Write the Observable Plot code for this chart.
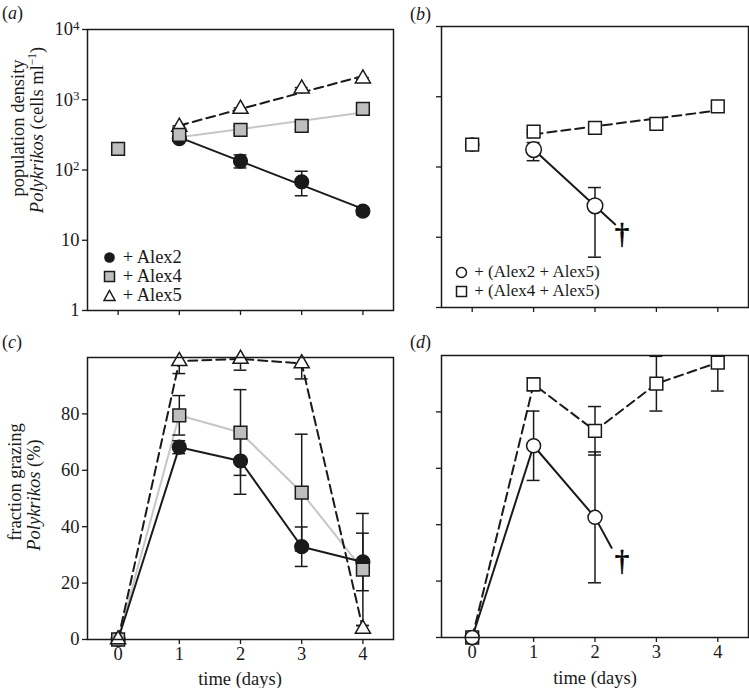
<!DOCTYPE html>
<html>
<head>
<meta charset="utf-8">
<script src="https://cdn.jsdelivr.net/npm/d3@7"></script>
<script src="https://cdn.jsdelivr.net/npm/@observablehq/plot@0.6"></script>
<style>
  html, body { margin: 0; padding: 0; background: #fff; }
  body { font-family: "Liberation Serif", "Times New Roman", serif; color: #1a1a1a; }
  #root { position: relative; width: 749px; height: 688px; overflow: hidden; }
  .panel { position: absolute; }
  .panel svg { display: block; overflow: visible; }
  .plab { position: absolute; font-size: 18px; white-space: nowrap; line-height: 1; }
  .ylab { position: absolute; font-size: 18.5px; white-space: nowrap; line-height: 1;
          transform: translate(-50%, -50%) rotate(-90deg); }
  .xlab { position: absolute; font-size: 18.5px; white-space: nowrap; line-height: 1;
          transform: translate(-50%, -50%); }
  .leg { position: absolute; font-size: 18.5px; white-space: nowrap; }
  .leg.small { font-size: 17px; }
  .leg .row { position: absolute; left: 0; display: flex; align-items: center; height: 14px; transform: translateY(-50%); }
  .leg .row span { display: inline-block; height: 14px; line-height: 14px; }
  .leg svg { display: block; margin-right: 2px; }
  sup { font-size: 0.62em; vertical-align: 0.55em; line-height: 0; }
</style>
</head>
<body>
<div id="root"></div>
<script>
// ---------------- data ----------------
const days = [0, 1, 2, 3, 4];

// (a) population density of Polykrikos (cells ml-1), single-strain treatments
const densInitial = 200;                       // shared day-0 density
const densDaysA = [1, 2, 3, 4];
const densAlex2   = [280, 134, 68, 26];
const densAlex2Lo = [262, 107, 43, 23];
const densAlex2Hi = [300, 164, 96, 29];
const densAlex4   = [316, 372, 426, 741];
const densAlex4Lo = [296, 335, 375, 640];
const densAlex4Hi = [338, 420, 485, 850];
const densAlex5   = [410, 740, 1440, 2000];
const densAlex5Lo = [395, 715, 1390, 1930];
const densAlex5Hi = [425, 765, 1490, 2070];

// (b) mixed-strain treatments
const densMix25Days = [1, 2];
const densMix25   = [177, 28];
const densMix25Lo = [123, 5.2];
const densMix25Hi = [223, 51];
const densMix25TrendEnd = 2.33;               // day at which the declining trend ends
const densMix45Days = [1, 2, 3, 4];
const densMix45   = [320, 361, 412, 730];
const densMix45Lo = [305, 345, 395, 700];
const densMix45Hi = [336, 378, 430, 762];
const densDagger = { t: 2.44, v: 11.3 };       // population died out

// (c) fraction grazing Polykrikos (%)
const fracAlex2    = [0, 68.2, 63.3, 32.9, 27.5];
const fracAlex2Err = [0, 2.3, 11.8, 7.0, 10.2];
const fracAlex4    = [0, 79.5, 73.4, 52.1, 24.8];
const fracAlex4Err = [0, 7.0, 15.2, 20.7, 19.9];
const fracAlex5    = [0, 98.7, 99.5, 97.9, 3.8];
const fracAlex5Err = [0, 4.4, 4.0, 5.5, 1.2];

// (d) mixed-strain treatments
const fracMix25Days = [0, 1, 2];
const fracMix25     = [0, 68.0, 42.6];
const fracMix25Err  = [0, 12.3, 23.2];
const fracMix25Tail = { t: 2.27, v: 31.8 };   // end of the declining line
const fracMix45     = [0, 89.8, 73.3, 90.0, 97.5];
const fracMix45Err  = [0, 2.3, 8.6, 9.7, 10.1];
const fracDagger = { t: 2.44, v: 27.3 };

// axis ticks
const densTicks = [1, 10, 100, 1000, 10000];
const densTickLabels = ["1", "10", "10\u00B2", "10\u00B3", "10\u2074"];
const fracTicks = [0, 20, 40, 60, 80];

// ---------------- helpers ----------------
const ink = "#1a1a1a";
const grayFill = "#bebebe";
const grayLine = "#c6c6c6";
const serif = '"Liberation Serif", "Times New Roman", serif';
const cap = 0.105;

function rows(ts, vs, lo, hi) {
  return ts.map((t, i) => ({ t, v: vs[i], lo: lo ? lo[i] : vs[i], hi: hi ? hi[i] : vs[i] }));
}
function rowsErr(ts, vs, err) {
  return ts.map((t, i) => ({ t, v: vs[i], lo: vs[i] - err[i], hi: vs[i] + err[i] }));
}
// least-squares exponential fit (log10 of value vs time)
function fitLog(rs) {
  const xs = rs.map(d => d.t), ys = rs.map(d => Math.log10(d.v));
  const mx = d3.mean(xs), my = d3.mean(ys);
  const b = d3.sum(xs, (x, i) => (x - mx) * (ys[i] - my)) / d3.sum(xs, x => (x - mx) ** 2);
  const a = my - b * mx;
  return t => Math.pow(10, a + b * t);
}
function fitLine(rs, t0, t1) {
  const f = fitLog(rs);
  return [{ t: t0, v: f(t0) }, { t: t1, v: f(t1) }];
}
function errorBars(rs) {
  const o = { stroke: ink, strokeWidth: 1.5, clip: true, filter: d => d.hi > d.lo };
  return [
    Plot.ruleX(rs, { ...o, x: "t", y1: "lo", y2: "hi" }),
    Plot.ruleY(rs, { ...o, y: "lo", x1: d => d.t - cap, x2: d => d.t + cap }),
    Plot.ruleY(rs, { ...o, y: "hi", x1: d => d.t - cap, x2: d => d.t + cap })
  ];
}
const dotCircleFilled = { symbol: "circle", r: 7, fill: ink, stroke: ink, strokeWidth: 1.2 };
const dotCircleOpen   = { symbol: "circle", r: 7, fill: "#fff", stroke: ink, strokeWidth: 1.5 };
const dotSquareGray   = { symbol: "square", r: 7.2, fill: grayFill, stroke: ink, strokeWidth: 1.5 };
const dotSquareOpen   = { symbol: "square", r: 7.2, fill: "#fff", stroke: ink, strokeWidth: 1.5 };
const dotTriangle     = { symbol: "triangle", r: 5.6, fill: "#fff", stroke: ink, strokeWidth: 1.5 };
const solid  = { stroke: ink, strokeWidth: 2 };
const dashed = { stroke: ink, strokeWidth: 2, strokeDasharray: "9,5" };
const grayL  = { stroke: grayLine, strokeWidth: 2 };
const daggerStyle = { text: () => "\u2020", fontSize: 29, fill: "black", stroke: "black", strokeWidth: 0.6, fontFamily: serif };

function basePlot({ width, height, mt, mr, mb, ml, y, yTickFormat, xTickFormat, marks }) {
  return Plot.plot({
    width, height,
    marginTop: mt, marginRight: mr, marginBottom: mb, marginLeft: ml,
    style: { fontFamily: serif, fontSize: "18.5px", color: ink, background: "transparent", overflow: "visible" },
    x: { domain: [-0.5, 4.5] },
    y,
    marks: [
      Plot.axisY({ ticks: y.ticksList, tickFormat: yTickFormat, tickSize: 5, tickPadding: 3, label: null, strokeWidth: 1.3 }),
      Plot.axisX({ ticks: days, tickFormat: xTickFormat, tickSize: 5, tickPadding: 2, label: null, strokeWidth: 1.3 }),
      ...marks,
      Plot.frame({ stroke: ink, strokeWidth: 1.5 })
    ]
  });
}

// render "10²"-style tick labels with a real superscript
const supMap = { "\u00B2": "2", "\u00B3": "3", "\u2074": "4" };
function superscriptTicks(svg) {
  svg.querySelectorAll("text").forEach(t => {
    const m = /^10([\u00B2\u00B3\u2074])$/.exec(t.textContent);
    if (!m) return;
    t.textContent = "10";
    const ts = document.createElementNS("http://www.w3.org/2000/svg", "tspan");
    ts.setAttribute("dy", "-0.42em");
    ts.setAttribute("font-size", "0.7em");
    ts.textContent = supMap[m[1]];
    t.appendChild(ts);
  });
  return svg;
}

const root = document.getElementById("root");
function place(node, left, top) {
  const d = document.createElement("div");
  d.className = "panel";
  d.style.left = left + "px"; d.style.top = top + "px";
  d.appendChild(node);
  root.appendChild(d);
}
function html(cls, left, top, inner) {
  const d = document.createElement("div");
  d.className = cls;
  d.style.left = left + "px"; d.style.top = top + "px";
  d.innerHTML = inner;
  root.appendChild(d);
}

// ---------------- panel (a) ----------------
const a2 = rows(densDaysA, densAlex2, densAlex2Lo, densAlex2Hi);
const a4 = rows(densDaysA, densAlex4, densAlex4Lo, densAlex4Hi);
const a5 = rows(densDaysA, densAlex5, densAlex5Lo, densAlex5Hi);
const a0 = [{ t: 0, v: densInitial, lo: densInitial * 0.92, hi: densInitial * 1.08 }];
const densY = { type: "log", domain: [1, 10000], ticksList: densTicks };
const densFmt = d => densTickLabels[densTicks.indexOf(d)];

place(superscriptTicks(basePlot({
  width: 400, height: 330, mt: 29, mr: 7, mb: 20, ml: 87,
  y: densY, yTickFormat: densFmt, xTickFormat: () => "",
  marks: [
    Plot.line(fitLine(a4, 1, 4), { x: "t", y: "v", ...grayL }),
    Plot.line(fitLine(a2, 1, 4), { x: "t", y: "v", ...solid }),
    Plot.line(fitLine(a5, 1, 4), { x: "t", y: "v", ...dashed }),
    ...errorBars(a2), ...errorBars(a4), ...errorBars(a5), ...errorBars(a0),
    Plot.dot(a2, { x: "t", y: "v", ...dotCircleFilled }),
    Plot.dot(a5, { x: "t", y: "v", ...dotTriangle }),
    Plot.dot(a4, { x: "t", y: "v", ...dotSquareGray }),
    Plot.dot(a0, { x: "t", y: "v", ...dotSquareGray })
  ]
})), 0, 0);

// ---------------- panel (b) ----------------
const b25 = rows(densMix25Days, densMix25, densMix25Lo, densMix25Hi);
const b45 = rows(densMix45Days, densMix45, densMix45Lo, densMix45Hi);
const b0 = [{ t: 0, v: 208, lo: 195, hi: 222 }];
place(basePlot({
  width: 349, height: 330, mt: 26, mr: 1, mb: 23, ml: 41,
  y: densY, yTickFormat: () => "", xTickFormat: () => "",
  marks: [
    Plot.line(fitLine(b45, 1, 4), { x: "t", y: "v", ...dashed }),
    Plot.line(fitLine(b25, 1, densMix25TrendEnd), { x: "t", y: "v", ...solid }),
    ...errorBars(b25), ...errorBars(b45), ...errorBars(b0),
    Plot.dot(b0, { x: "t", y: "v", ...dotCircleOpen, r: 6.6 }),
    Plot.dot(b0, { x: "t", y: "v", ...dotSquareOpen }),
    Plot.dot(b45, { x: "t", y: "v", ...dotSquareOpen }),
    Plot.dot(b25, { x: "t", y: "v", ...dotCircleOpen, r: 7.8 }),
    Plot.text([densDagger], { x: "t", y: "v", ...daggerStyle })
  ]
}), 400, 0);

// ---------------- panel (c) ----------------
const c2 = rowsErr(days, fracAlex2, fracAlex2Err);
const c4 = rowsErr(days, fracAlex4, fracAlex4Err);
const c5 = rowsErr(days, fracAlex5, fracAlex5Err);
const fracY = { domain: [0, 100], ticksList: fracTicks };
place(basePlot({
  width: 400, height: 348, mt: 17, mr: 7, mb: 49, ml: 87,
  y: fracY, yTickFormat: d => String(d), xTickFormat: d => String(d),
  marks: [
    Plot.line(c4, { x: "t", y: "v", ...grayL }),
    Plot.line(c2, { x: "t", y: "v", ...solid }),
    Plot.line(c5, { x: "t", y: "v", ...dashed }),
    ...errorBars(c2), ...errorBars(c4), ...errorBars(c5),
    Plot.dot(c2, { x: "t", y: "v", ...dotCircleFilled }),
    Plot.dot(c4, { x: "t", y: "v", ...dotSquareGray }),
    Plot.dot(c5, { x: "t", y: "v", ...dotTriangle })
  ]
}), 0, 340);

// ---------------- panel (d) ----------------
const d25 = rowsErr(fracMix25Days, fracMix25, fracMix25Err);
const d45 = rowsErr(days, fracMix45, fracMix45Err);
const d25Line = [...d25.map(d => ({ t: d.t, v: d.v })), fracMix25Tail];
place(basePlot({
  width: 349, height: 348, mt: 15, mr: 1, mb: 51, ml: 41,
  y: fracY, yTickFormat: () => "", xTickFormat: d => String(d),
  marks: [
    Plot.line(d45, { x: "t", y: "v", ...dashed }),
    Plot.line(d25Line, { x: "t", y: "v", ...solid }),
    ...errorBars(d25), ...errorBars(d45),
    Plot.dot(d45, { x: "t", y: "v", ...dotSquareOpen }),
    Plot.dot(d25, { x: "t", y: "v", ...dotCircleOpen }),
    Plot.text([fracDagger], { x: "t", y: "v", ...daggerStyle })
  ]
}), 400, 340);

// ---------------- text: panel letters, axis titles, legends ----------------
html("plab", 2, 4, "(<i>a</i>)");
html("plab", 410, 5, "(<i>b</i>)");
html("plab", 2, 333, "(<i>c</i>)");
html("plab", 410, 333, "(<i>d</i>)");

html("ylab", 18, 128, "population density");
html("ylab", 37, 130, "<i>Polykrikos</i> (cells ml<sup>\u22121</sup>)");
html("ylab", 15, 482, "fraction grazing");
html("ylab", 34, 495, "<i>Polykrikos</i> (%)");

html("xlab", 240, 679, "time (days)");
html("xlab", 595, 678, "time (days)");

const symCircleFilled = '<svg width="13" height="13"><circle cx="6.5" cy="6.5" r="5.3" fill="#1a1a1a"/></svg>';
const symSquareGray = '<svg width="13" height="13"><rect x="1.5" y="1.5" width="10" height="10" fill="#bebebe" stroke="#1a1a1a" stroke-width="1.5"/></svg>';
const symTriangle = '<svg width="13" height="13"><path d="M6.5,1.5 L12,11.5 L1,11.5 Z" fill="#fff" stroke="#1a1a1a" stroke-width="1.5"/></svg>';
const symCircleOpen = '<svg width="13" height="13"><circle cx="6.5" cy="6.5" r="5" fill="#fff" stroke="#1a1a1a" stroke-width="1.5"/></svg>';
const symSquareOpen = '<svg width="13" height="13"><rect x="1.5" y="1.5" width="10" height="10" fill="#fff" stroke="#1a1a1a" stroke-width="1.5"/></svg>';

html("leg", 103, 0,
  `<div class="row" style="top:257px">${symCircleFilled}<span>&nbsp;+ Alex2</span></div>` +
  `<div class="row" style="top:276px">${symSquareGray}<span>&nbsp;+ Alex4</span></div>` +
  `<div class="row" style="top:295px">${symTriangle}<span>&nbsp;+ Alex5</span></div>`);
html("leg small", 455, 0,
  `<div class="row" style="top:272px">${symCircleOpen}<span>&nbsp;+ (Alex2 + Alex5)</span></div>` +
  `<div class="row" style="top:291px">${symSquareOpen}<span>&nbsp;+ (Alex4 + Alex5)</span></div>`);
</script>
</body>
</html>
